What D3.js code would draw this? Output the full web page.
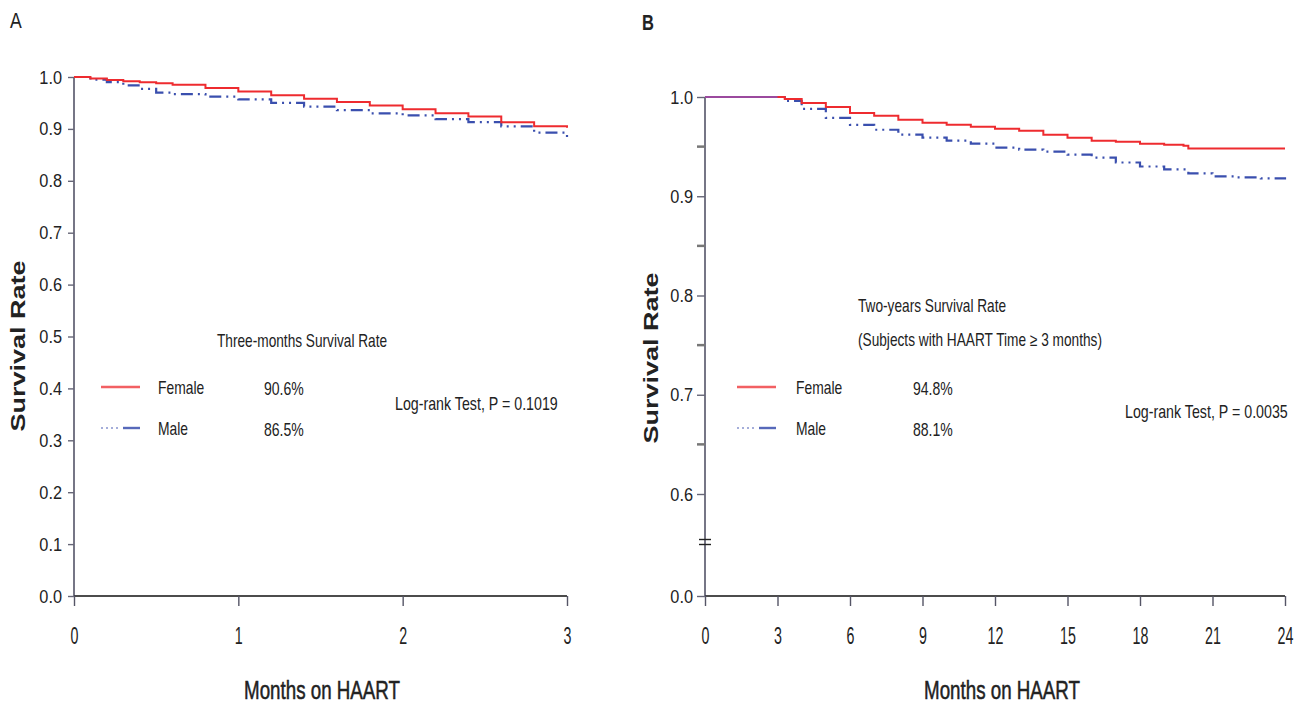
<!DOCTYPE html>
<html>
<head>
<meta charset="utf-8">
<script src="https://cdn.jsdelivr.net/npm/d3@7"></script>
<style>
  body { margin: 0; background: #fff; }
  svg { display: block; }
  text { font-family: "Liberation Sans", Arial, "Noto Sans", sans-serif; fill: #222; }
</style>
</head>
<body>
<svg id="chart" width="1303" height="706"></svg>
<script>
// ---------- DATA ----------
// Panel A: three-month survival
const monthsA = [0, 0.1, 0.2, 0.3, 0.4, 0.5, 0.6, 0.8, 1.0, 1.2, 1.4, 1.6, 1.8, 2.0, 2.2, 2.4, 2.6, 2.8, 3.0];
const femaleA = [1.0, 0.997, 0.994, 0.992, 0.990, 0.988, 0.985, 0.979, 0.972, 0.965, 0.958, 0.952, 0.945, 0.938, 0.930, 0.924, 0.913, 0.905, 0.902];
const maleA   = [1.0, 0.995, 0.990, 0.984, 0.977, 0.970, 0.967, 0.962, 0.957, 0.950, 0.943, 0.936, 0.930, 0.926, 0.919, 0.913, 0.905, 0.893, 0.878];
const xTicksA = [0, 1, 2, 3];
const yTicksA = [0, 0.1, 0.2, 0.3, 0.4, 0.5, 0.6, 0.7, 0.8, 0.9, 1.0];

// Panel B: two-year survival (HAART time >= 3 months)
const monthsBF = [0, 3, 3.3, 4, 5, 6, 7, 8, 9, 10, 11, 12, 13, 14, 15, 16, 17, 18, 19, 19.8, 20, 24];
const femaleB  = [1.0, 1.0, 0.998, 0.994, 0.990, 0.984, 0.981, 0.977, 0.974, 0.972, 0.970, 0.968, 0.966, 0.962, 0.959, 0.956, 0.955, 0.953, 0.952, 0.951, 0.948, 0.948];
const monthsBM = [0, 3, 3.3, 4, 5, 6, 7, 8, 9, 10, 11, 12, 13, 14, 15, 16, 17, 18, 19, 20, 21, 22, 23, 24];
const maleB    = [1.0, 1.0, 0.996, 0.988, 0.979, 0.972, 0.967, 0.962, 0.959, 0.956, 0.953, 0.949, 0.947, 0.945, 0.942, 0.939, 0.934, 0.930, 0.927, 0.923, 0.920, 0.919, 0.918, 0.917];
const xTicksB = [0, 3, 6, 9, 12, 15, 18, 21, 24];
const yTicksB = [0, 0.6, 0.7, 0.8, 0.9, 1.0];
const yMinorB = [0.65, 0.75, 0.85, 0.95];

const legendLabels = ["Female", "Male"];
const legendA = ["90.6%", "86.5%"];
const legendB = ["94.8%", "88.1%"];

// ---------- DRAWING ----------
const svg = d3.select("#chart");
const RED = "#ee2b2f", BLUE = "#3a4fae", PURPLE = "#9b4a9e", AX = "#3c3c52";

function pts(t, s) { return t.map((d, i) => ({ t: d, s: s[i] })); }

// condensed text helper (the reference uses a narrow face)
function txt(g, x, y, str, size, sx, anchor, weight) {
  return g.append("text")
    .attr("transform", `translate(${x},${y}) scale(${sx},1)`)
    .attr("font-size", size)
    .attr("text-anchor", anchor || "start")
    .attr("font-weight", weight || "normal")
    .text(str);
}
function condense(sel, k) {
  sel.each(function () {
    const t = d3.select(this);
    const x = +t.attr("x") || 0;
    t.attr("transform", `translate(${x * (1 - k)},0) scale(${k},1)`);
  });
}

function drawAxes(g, x, y, xTicks, yTicks, yFmt) {
  const [x0, x1] = x.range();
  const [yb, yt] = [y(0), y(1)];
  const xa = g.append("g").attr("transform", `translate(0,${yb})`)
    .call(d3.axisBottom(x).tickValues(xTicks).tickSize(10).tickPadding(22).tickFormat(d3.format("d")));
  xa.select(".domain").attr("stroke", "#111").attr("stroke-width", 1.6).attr("d", `M${x0},0H${x1}`);
  xa.selectAll(".tick line").attr("stroke", "#556").attr("stroke-width", 1.4);
  xa.selectAll(".tick text").attr("font-size", 23).attr("fill", "#222")
    .style("font-family", '"Liberation Sans", Arial, sans-serif');
  condense(xa.selectAll(".tick text"), 0.62);

  const ya = g.append("g").attr("transform", `translate(${x0},0)`)
    .call(d3.axisLeft(y).tickValues(yTicks).tickSize(6).tickPadding(6).tickFormat(yFmt));
  ya.select(".domain").attr("stroke", AX).attr("stroke-width", 1.4).attr("d", `M0,${yt}V${yb}`);
  ya.selectAll(".tick line").attr("stroke", "#667").attr("stroke-width", 1.4);
  ya.selectAll(".tick text").attr("font-size", 19).attr("fill", "#222")
    .style("font-family", '"Liberation Sans", Arial, sans-serif');
  condense(ya.selectAll(".tick text"), 0.86);
  return ya;
}

function drawCurves(g, x, y, fem, mal) {
  const line = d3.line().x(d => x(d.t)).y(d => y(d.s)).curve(d3.curveStepAfter);
  g.append("path").datum(mal).attr("d", line).attr("fill", "none")
    .attr("stroke", BLUE).attr("stroke-width", 2.2).attr("stroke-dasharray", "12,5,2,5,2,5");
  g.append("path").datum(fem).attr("d", line).attr("fill", "none")
    .attr("stroke", RED).attr("stroke-width", 2);
}

function drawLegend(g, lx, ly, gap, vals, labX, valX) {
  g.append("line").attr("x1", lx).attr("x2", lx + 39).attr("y1", ly).attr("y2", ly)
    .attr("stroke", RED).attr("stroke-width", 2.4).attr("opacity", 0.75);
  g.append("line").attr("x1", lx).attr("x2", lx + 20).attr("y1", ly + gap).attr("y2", ly + gap)
    .attr("stroke", BLUE).attr("stroke-width", 1.5).attr("stroke-dasharray", "2,3").attr("opacity", 0.6);
  g.append("line").attr("x1", lx + 22).attr("x2", lx + 39).attr("y1", ly + gap).attr("y2", ly + gap)
    .attr("stroke", BLUE).attr("stroke-width", 2.4).attr("opacity", 0.85);
  legendLabels.forEach((lab, i) => {
    txt(g, labX, ly + i * gap + 7, lab, 18, 0.77);
    txt(g, valX, ly + i * gap + 8, vals[i], 18, 0.78);
  });
}

function yTitle(g, cx, cy) {
  g.append("text")
    .attr("transform", `translate(${cx},${cy}) scale(0.76,1) rotate(-90)`)
    .attr("font-size", 27).attr("font-weight", "bold").attr("text-anchor", "middle")
    .text("Survival Rate");
}
function xTitle(g, cx) {
  txt(g, cx, 699, "Months on HAART", 25, 0.75, "middle")
    .attr("stroke", "#222").attr("stroke-width", 0.5);
}

// ===== Panel A =====
{
  const g = svg.append("g");
  const x = d3.scaleLinear().domain([0, 3]).range([74, 567]);
  const y = d3.scaleLinear().domain([0, 1]).range([596, 77]);
  drawAxes(g, x, y, xTicksA, yTicksA, d3.format(".1f"));
  drawCurves(g, x, y, pts(monthsA, femaleA), pts(monthsA, maleA));
  txt(g, 10, 28, "A", 22, 0.8);
  yTitle(g, 25, 346);
  xTitle(g, 322);
  txt(g, 217, 347, "Three-months Survival Rate", 18, 0.76);
  drawLegend(g, 101, 387, 41, legendA, 158, 264);
  txt(g, 395, 410, "Log-rank Test, P = 0.1019", 18, 0.79);
}

// ===== Panel B =====
{
  const g = svg.append("g");
  const x = d3.scaleLinear().domain([0, 24]).range([705, 1285]);
  const y = d3.scaleLinear().domain([0, 0.6, 1]).range([596, 494, 97]);
  const ya = drawAxes(g, x, y, xTicksB, yTicksB, d3.format(".1f"));
  ya.selectAll(".tick line").attr("x2", -8);
  g.selectAll(".minor").data(yMinorB).enter().append("line")
    .attr("x1", x(0) - 8).attr("x2", x(0)).attr("y1", d => y(d)).attr("y2", d => y(d))
    .attr("stroke", "#777").attr("stroke-width", 2.5);
  const yBreak = (y(0) + y(0.6)) / 2 - 3;
  [-2.5, 2.5].forEach(o => g.append("line").attr("x1", x(0) - 6).attr("x2", x(0) + 6)
    .attr("y1", yBreak + o).attr("y2", yBreak + o).attr("stroke", "#222").attr("stroke-width", 1.4));

  const fem = pts(monthsBF, femaleB), mal = pts(monthsBM, maleB);
  drawCurves(g, x, y, fem, mal);
  const overlap = fem.filter(d => d.t <= 3);
  g.append("path").datum(overlap)
    .attr("d", d3.line().x(d => x(d.t)).y(d => y(d.s)))
    .attr("fill", "none").attr("stroke", PURPLE).attr("stroke-width", 2);

  txt(g, 642, 30, "B", 22, 0.75, "start", "bold");
  yTitle(g, 658, 358);
  xTitle(g, 1002);
  txt(g, 858, 312, "Two-years Survival Rate", 18, 0.76);
  txt(g, 858, 346, "(Subjects with HAART Time  \u2265 3 months)", 18, 0.76);
  drawLegend(g, 737, 387, 41, legendB, 796, 913);
  txt(g, 1125, 418, "Log-rank Test, P = 0.0035", 18, 0.79);
}
</script>
</body>
</html>
